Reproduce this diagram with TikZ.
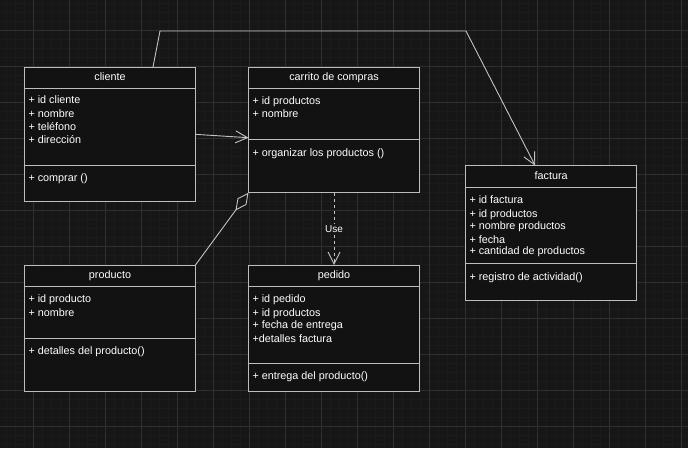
\documentclass[tikz,border=0pt]{standalone}
\usepackage{fontspec}
\setmainfont{Liberation Sans}
\usetikzlibrary{positioning,arrows.meta,calc}
\definecolor{canvas}{HTML}{161616}
\definecolor{gridmajor}{HTML}{2E2E2E}
\definecolor{gridminor}{HTML}{1B1B1B}
\definecolor{boxfill}{HTML}{121212}
\definecolor{boxline}{HTML}{BDBDBD}
\definecolor{wire}{HTML}{C4C4C4}
\tikzset{
  clssect/.style={rectangle, draw=boxline, fill=boxfill, line width=1pt,
                  minimum width=171pt, minimum height=#1, inner sep=0pt, outer sep=0pt},
  clshead/.style={clssect=21.3pt, anchor=north west, text=white,
                  font=\fontsize{10.8}{13}\selectfont, text height=8pt, text depth=2.5pt},
  member/.style={anchor=west, inner sep=0pt, text=white, yshift=-1.2pt,
                 font=\fontsize{10.8}{13}\selectfont, text height=8pt, text depth=2.5pt},
  assoc/.style={draw=wire, line width=0.9pt, -{Straight Barb[length=12pt,width=12pt]}},
  aggr/.style={draw=wire, line width=0.9pt, -{Diamond[open,length=22pt,width=11pt]}},
  dep/.style={assoc, dash pattern=on 3pt off 3pt},
  lbl/.style={fill=canvas, text=white, inner sep=1.5pt, font=\fontsize{10}{12}\selectfont},
}
\begin{document}
\begin{tikzpicture}[x=1pt, y=-1pt]
% canvas and grid
\fill[canvas] (0,0) rectangle (688,448);
\useasboundingbox (0,0) rectangle (688,448);
\foreach \k in {0,...,76} \draw[gridminor, line width=0.8pt] ({-2.7+9*\k},0) -- ({-2.7+9*\k},448);
\foreach \k in {0,...,49} \draw[gridminor, line width=0.8pt] (0,{3.3+9*\k}) -- (688,{3.3+9*\k});
\foreach \k in {-1,...,18} \draw[gridmajor, line width=0.8pt] ({33.3+36*\k},0) -- ({33.3+36*\k},448);
\foreach \k in {-1,...,11} \draw[gridmajor, line width=0.8pt] (0,{30.3+36*\k}) -- (688,{30.3+36*\k});

% cliente
\node[clshead] (cliente-t) at (24.5,67) {cliente};
\node[clssect=76.7pt, below=0pt of cliente-t] (cliente-a) {};
\node[clssect=36.7pt, below=0pt of cliente-a] (cliente-m) {};
\foreach \y/\t in {100/+ id cliente, 114/+ nombre, 126.7/+ teléfono, 140/+ dirección, 177.3/+ comprar ()}
  \node[member] at (28.3,\y) {\t};

% carrito de compras
\node[clshead] (carrito-t) at (248.5,67) {carrito de compras};
\node[clssect=51pt, below=0pt of carrito-t] (carrito-a) {};
\node[clssect=53.4pt, below=0pt of carrito-a] (carrito-m) {};
\foreach \y/\t in {100.7/+ id productos, 114/+ nombre, 152.3/+ organizar los productos ()}
  \node[member] at (252.3,\y) {\t};

% factura
\node[clshead] (factura-t) at (465.7,165.7) {factura};
\node[clssect=76.4pt, below=0pt of factura-t] (factura-a) {};
\node[clssect=37pt, below=0pt of factura-a] (factura-m) {};
\foreach \y/\t in {199.3/+ id factura, 213.3/+ id productos, 225.3/+ nombre productos,
                   239.3/+ fecha, 250.7/+ cantidad de productos, 276.7/+ registro de actividad()}
  \node[member] at (469.3,\y) {\t};

% producto
\node[clshead] (producto-t) at (24.5,265) {producto};
\node[clssect=51.7pt, below=0pt of producto-t] (producto-a) {};
\node[clssect=53pt, below=0pt of producto-a] (producto-m) {};
\foreach \y/\t in {298.3/+ id producto, 312.3/+ nombre, 350.3/+ detalles del producto()}
  \node[member] at (28.3,\y) {\t};

% pedido
\node[clshead] (pedido-t) at (248.5,265) {pedido};
\node[clssect=77pt, below=0pt of pedido-t] (pedido-a) {};
\node[clssect=27.7pt, below=0pt of pedido-a] (pedido-m) {};
\foreach \y/\t in {298.3/+ id pedido, 312.3/+ id productos, 324.3/+ fecha de entrega,
                   338.7/+detalles factura, 375.7/+ entrega del producto()}
  \node[member] at (252.3,\y) {\t};

% relations
\draw[assoc] ($(cliente-a.east)+(0,7.7)$) -- ($(carrito-a.south west)+(0,-1.6)$);
\draw[assoc] ($(cliente-t.north)+(43,0)$) -- (160,31) -- (466,31) -- ($(factura-t.north)+(-16,0)$);
\draw[aggr] (producto-t.north east) -- (carrito-m.south west);
\draw[dep] (carrito-m.south) -- node[lbl] {Use} (pedido-t.north);
\end{tikzpicture}
\end{document}
